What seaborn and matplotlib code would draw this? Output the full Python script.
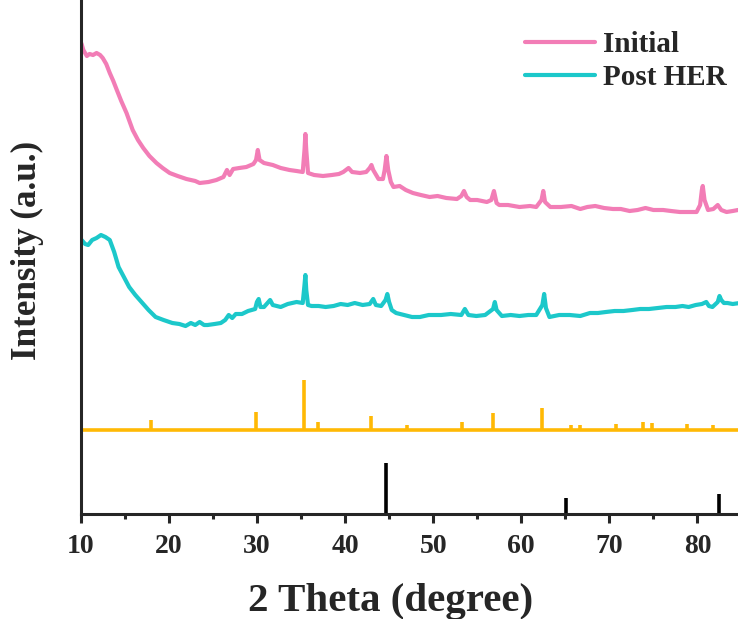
import numpy as np
import pandas as pd
import matplotlib
matplotlib.use("Agg")
import matplotlib.pyplot as plt
from matplotlib.ticker import MultipleLocator
import seaborn as sns

# ---- data (2 theta in degree, intensity in arbitrary units) ----
initial_2theta = [10.0, 10.1, 10.3, 10.7, 11.0, 11.4, 11.8, 12.2, 12.5, 12.9, 13.3, 13.7, 14.1, 14.6, 15.2,
                  15.9, 16.5, 17.1, 17.8, 18.6, 19.3, 20.1, 21.0, 22.0, 23.0, 23.5, 24.5, 25.4, 26.2, 26.6,
                  26.9, 27.3, 28.0, 28.8, 29.6, 29.9, 30.1, 30.3, 30.8, 31.8, 32.7, 33.7, 34.5, 35.2, 35.4,
                  35.5, 35.6, 35.8, 36.5, 37.5, 38.5, 39.3, 39.8, 40.4, 40.8, 41.7, 42.4, 42.8, 43.0, 43.2,
                  43.8, 44.3, 44.5, 44.7, 44.9, 45.2, 45.5, 46.2, 46.9, 47.7, 48.6, 49.6, 50.5, 51.5, 52.7,
                  53.2, 53.5, 53.8, 54.2, 55.0, 56.1, 56.6, 56.9, 57.2, 57.5, 58.5, 59.8, 61.0, 61.7, 62.3,
                  62.5, 62.7, 63.3, 64.5, 65.7, 66.7, 67.5, 68.4, 69.4, 70.4, 71.3, 72.3, 73.2, 74.1, 75.0,
                  76.1, 77.0, 78.0, 79.0, 79.9, 80.3, 80.5, 80.6, 80.8, 81.2, 81.8, 82.3, 82.7, 83.3, 84.0, 84.6]
initial_intensity = [472, 470, 464, 458, 460, 459, 461, 459, 456, 450, 441, 433, 424, 413, 401,
                     384, 374, 366, 358, 351, 346, 341, 338, 335, 333, 331, 332, 334, 337, 344,
                     339, 345, 346, 347, 350, 354, 364, 354, 351, 349, 346, 344, 343, 342, 364,
                     380, 364, 341, 339, 338, 339, 340, 342, 346, 342, 341, 342, 346, 349, 344,
                     335, 335, 344, 358, 344, 332, 327, 328, 324, 321, 319, 317, 318, 316, 315,
                     318, 323, 317, 314, 314, 312, 314, 323, 311, 309, 309, 307, 308, 307, 314,
                     323, 312, 307, 307, 308, 305, 307, 308, 306, 305, 305, 303, 304, 306, 304,
                     304, 303, 302, 302, 302, 309, 324, 328, 314, 304, 305, 309, 304, 302, 303, 304]

post_2theta = [10.0, 10.1, 10.5, 10.85, 11.3, 11.8, 12.3, 12.8, 13.3, 13.8, 14.3, 14.9, 15.5, 16.2, 17.0,
               17.7, 18.5, 19.4, 20.4, 21.2, 21.9, 22.5, 23.0, 23.5, 24.0, 24.4, 25.2, 25.9, 26.4, 26.8,
               27.2, 27.6, 28.3, 29.0, 29.8, 30.0, 30.2, 30.4, 30.8, 31.2, 31.5, 31.8, 32.7, 33.5, 34.5,
               35.2, 35.4, 35.5, 35.6, 35.8, 36.2, 37.0, 37.8, 38.7, 39.5, 40.3, 41.1, 42.0, 42.8, 43.2,
               43.5, 44.1, 44.6, 44.8, 45.0, 45.3, 45.8, 46.7, 47.6, 48.5, 49.5, 50.9, 52.0, 53.2, 53.6,
               54.0, 54.9, 55.9, 56.8, 57.0, 57.2, 57.8, 58.8, 59.8, 60.8, 61.7, 62.4, 62.6, 62.8, 63.2,
               64.3, 65.5, 66.7, 67.8, 68.7, 69.6, 70.6, 71.6, 72.6, 73.5, 74.5, 75.5, 76.5, 77.5, 78.3,
               79.0, 79.8, 80.5, 81.0, 81.3, 81.7, 82.3, 82.5, 82.7, 83.0, 83.4, 84.0, 84.8]
post_intensity = [272, 274, 270, 269, 274, 276, 279, 277, 274, 262, 247, 237, 227, 219, 211,
                  204, 197, 194, 191, 190, 188, 191, 189, 192, 189, 189, 190, 191, 194, 199,
                  196, 200, 200, 203, 205, 212, 215, 207, 207, 211, 214, 209, 207, 210, 212,
                  211, 229, 239, 224, 209, 208, 208, 207, 208, 210, 209, 211, 209, 210, 215,
                  209, 208, 214, 220, 212, 204, 201, 199, 197, 197, 199, 199, 200, 199, 205,
                  199, 198, 199, 205, 212, 204, 198, 199, 198, 199, 199, 209, 220, 206, 197,
                  199, 199, 198, 201, 201, 202, 203, 203, 204, 205, 205, 206, 207, 207, 208,
                  207, 209, 210, 212, 208, 207, 212, 218, 214, 211, 211, 210, 211]

# reference pattern 1 (orange sticks) and reference pattern 2 (black sticks)
ref1_2theta = [18.0, 29.9, 35.3, 36.9, 42.9, 47.0, 53.3, 56.8, 62.4, 65.6, 66.7, 70.8, 73.8, 74.8, 78.8, 81.8]
ref1_rel = [20, 36, 100, 17, 29, 11, 17, 35, 45, 11, 10, 13, 17, 14, 13, 11]
ref2_2theta = [44.7, 65.1, 82.4]
ref2_rel = [100, 31, 39]

# ---- style ----
sns.set_style("ticks")
plt.rcParams['font.family'] = ['Liberation Serif', 'DejaVu Serif']
plt.rcParams['font.weight'] = 'bold'

pink = '#F27DB6'
teal = '#1CC8CA'
gold = '#FFB905'

fig = plt.figure(figsize=(7.38, 6.19), dpi=100)
ax = fig.add_axes([80.7 / 738, 105 / 619, (738 - 80.7) / 738, 514 / 619])

df_init = pd.DataFrame({'x': initial_2theta, 'y': initial_intensity})
df_post = pd.DataFrame({'x': post_2theta, 'y': post_intensity})
sns.lineplot(data=df_init, x='x', y='y', ax=ax, color=pink, lw=3.0, sort=False,
             estimator=None, label='Initial')
sns.lineplot(data=df_post, x='x', y='y', ax=ax, color=teal, lw=3.0, sort=False,
             estimator=None, label='Post HER')

# reference stick patterns
base1 = 84
ax.axhline(base1, color=gold, lw=2.6, zorder=2)
ax.vlines(ref1_2theta, base1, base1 + np.array(ref1_rel) * 0.5, color=gold, lw=2.6)
ax.vlines(ref2_2theta, 0, np.array(ref2_rel) * 0.51, color='black', lw=2.6)

ax.set_xlim(10, 84.6)
ax.set_ylim(0, 514)
ax.xaxis.set_major_locator(MultipleLocator(10))
ax.xaxis.set_minor_locator(MultipleLocator(5))
ax.set_yticks([])
sns.despine(ax=ax, top=True, right=True)
for s in ['left', 'bottom']:
    ax.spines[s].set_linewidth(2.2)
ax.tick_params(axis='x', which='major', direction='out', length=6.5, width=2.2,
               labelsize=20, pad=8)
ax.tick_params(axis='x', which='minor', direction='out', length=3.5, width=2.2)
for lab in ax.get_xticklabels():
    lab.set_fontweight('bold')

ax.set_xlabel('2 Theta (degree)', fontsize=29.5, fontweight='bold')
ax.xaxis.set_label_coords((391 - 80.7) / (738 - 80.7), -0.135)
ax.set_ylabel('Intensity (a.u.)', fontsize=25.3, fontweight='bold')
ax.yaxis.set_label_coords((44 - 80.7) / (738 - 80.7), (514 - 250) / 514)

leg = ax.legend(loc='upper left', bbox_to_anchor=(525 / 738, 1 - 31 / 619),
                bbox_transform=fig.transFigure, frameon=False, fontsize=21,
                handlelength=2.4, handletextpad=0.28, labelspacing=0.2,
                borderpad=0, borderaxespad=0)
for t in leg.get_texts():
    t.set_fontweight('bold')

fig.savefig('out.png', dpi=100)
